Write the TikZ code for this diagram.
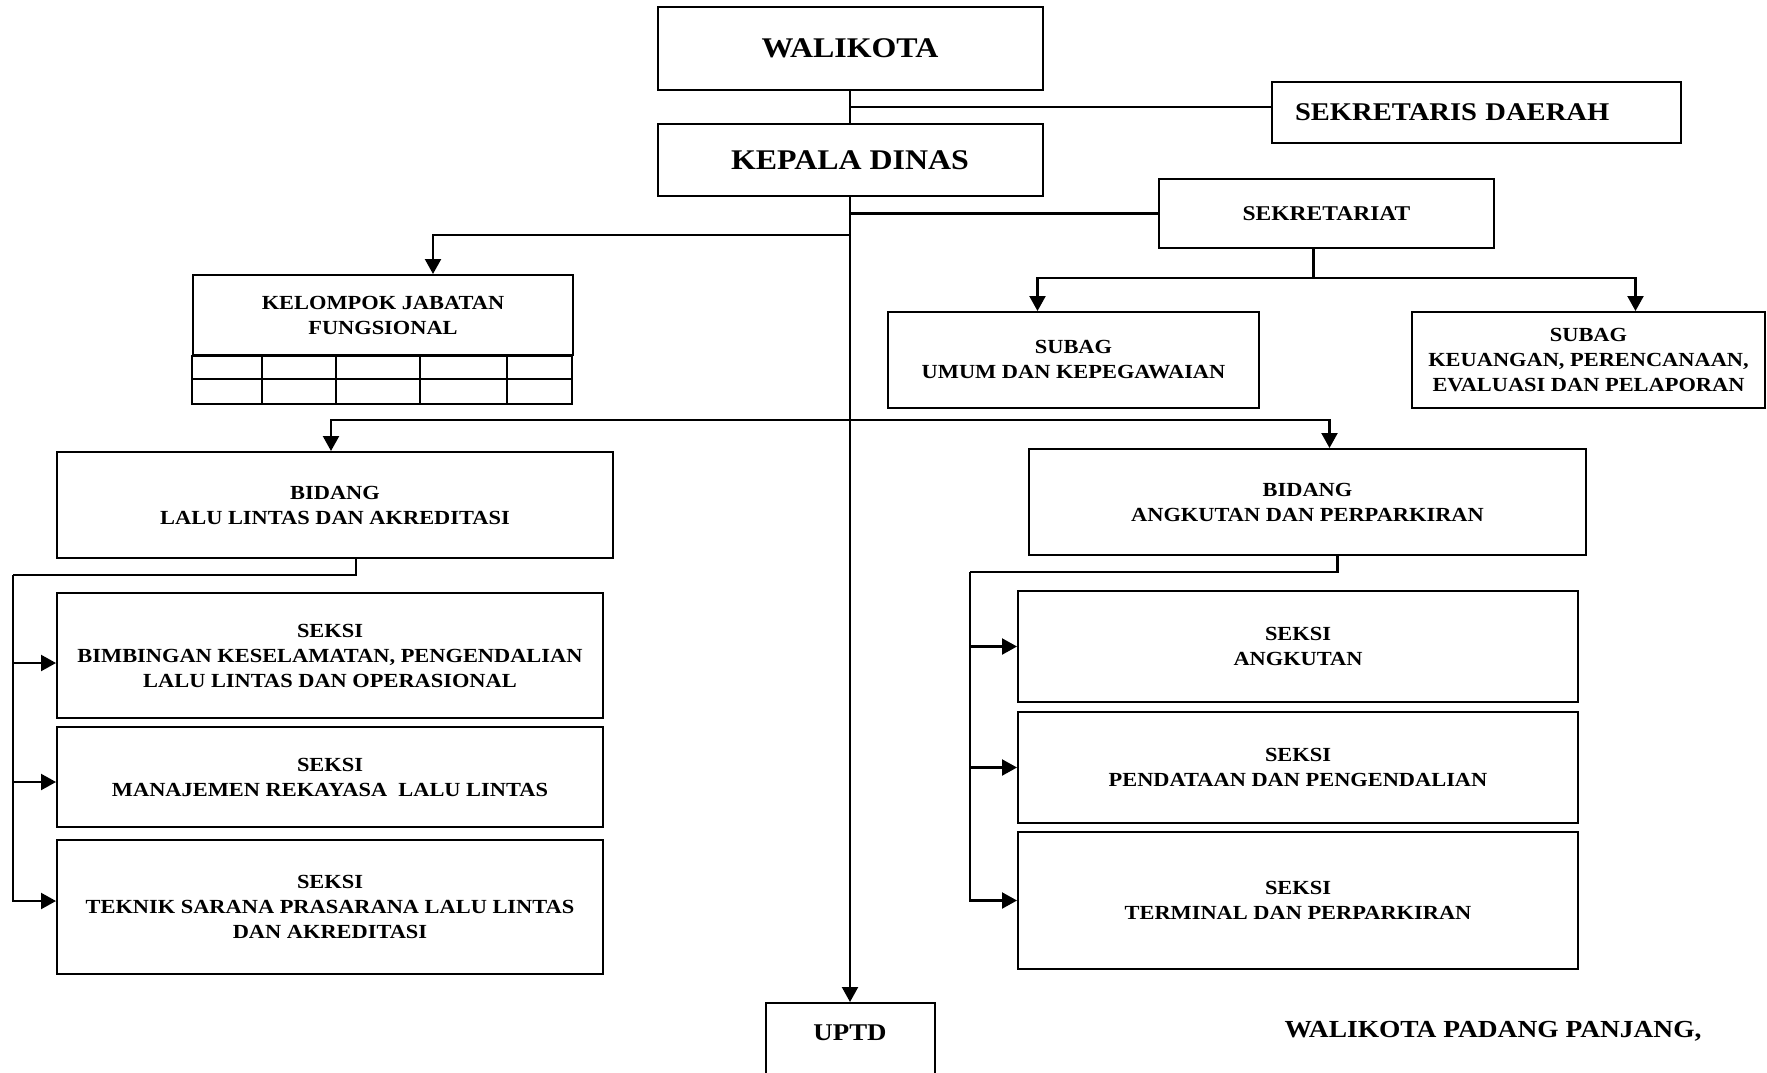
\documentclass[tikz,border=0pt]{standalone}
\usepackage{fontspec}
\setmainfont{Liberation Serif}[FakeStretch=1.12]
\usetikzlibrary{arrows.meta}

\begin{document}
\begin{tikzpicture}[x=1pt,y=-1pt,
  box/.style={draw,line width=2pt,align=center,inner sep=0pt,font=\bfseries\fontsize{20}{25}\selectfont},
  link/.style={line width=2.2pt},
  arr/.style={line width=2.2pt,-{Triangle[length=15pt,width=16pt]}}]
\useasboundingbox (0,0) rectangle (1767,1072);
\node [box,minimum width=385,minimum height=83,font=\bfseries\fontsize{28.5}{34}\selectfont] (walikota) at (850,48.5) {WALIKOTA};
\node [box,minimum width=385,minimum height=72,font=\bfseries\fontsize{28.5}{34}\selectfont] (kepala) at (850,160) {KEPALA DINAS};
\node [box,anchor=west,minimum height=61,text width=363,inner xsep=23,align=left,font=\bfseries\fontsize{25.5}{30}\selectfont] (sekda) at (1271,112.5) {SEKRETARIS DAERAH};
\node [box,minimum width=335,minimum height=69,font=\bfseries\fontsize{21}{26}\selectfont] (sekretariat) at (1326.5,213.5) {SEKRETARIAT};
\node [box,minimum width=380,minimum height=80] (kelompok) at (383,315) {KELOMPOK JABATAN\\FUNGSIONAL};
\node [box,minimum width=371,minimum height=96] (umum) at (1073.5,360) {SUBAG\\UMUM DAN KEPEGAWAIAN};
\node [box,minimum width=353,minimum height=96] (keu) at (1588.5,360) {SUBAG\\KEUANGAN, PERENCANAAN,\\EVALUASI DAN PELAPORAN};
\node [box,minimum width=556,minimum height=106] (bidll) at (335,505) {BIDANG\\LALU LINTAS DAN AKREDITASI};
\node [box,minimum width=557,minimum height=106] (bidap) at (1307.5,502) {BIDANG\\ANGKUTAN DAN PERPARKIRAN};
\node [box,minimum width=546,minimum height=125] (s1) at (330,655.5) {SEKSI\\BIMBINGAN KESELAMATAN, PENGENDALIAN\\LALU LINTAS DAN OPERASIONAL};
\node [box,minimum width=546,minimum height=100] (s2) at (330,777) {SEKSI\\MANAJEMEN REKAYASA\ \ LALU LINTAS};
\node [box,minimum width=546,minimum height=134] (s3) at (330,907) {SEKSI\\TEKNIK SARANA PRASARANA LALU LINTAS\\DAN AKREDITASI};
\node [box,minimum width=560,minimum height=111] (a1) at (1298,646.5) {SEKSI\\ANGKUTAN};
\node [box,minimum width=560,minimum height=111] (a2) at (1298,767.5) {SEKSI\\PENDATAAN DAN PENGENDALIAN};
\node [box,minimum width=560,minimum height=137] (a3) at (1298,900.5) {SEKSI\\TERMINAL DAN PERPARKIRAN};
\node [box,anchor=north,minimum width=169,text height=37,text depth=62,font=\bfseries\fontsize{24}{30}\selectfont] (uptd) at (850,1002) {UPTD};
\node [font=\bfseries\fontsize{24.5}{30}\selectfont] (ttd) at (1493,1031) {WALIKOTA PADANG PANJANG,};
\draw [link] (kelompok.south west) rectangle ++(380,48);
\draw [link] (kelompok.south west) ++(0,23) -- ++(380,0);
\foreach \dx in {70,144,228,315}
  \draw [link] ([xshift=\dx pt]kelompok.south west) -- ++(0,48);
\coordinate (jsekda) at ([yshift=5.5pt]sekda.west);
\coordinate (jkjf) at (850,235);
\coordinate (jbid) at (850,420);
\coordinate (lbus) at (13,575);
\coordinate (rbus) at (970,572);
\coordinate (t1) at ([yshift=-7.5pt]s1.west);
\coordinate (t2) at ([yshift=-5pt]s2.west);
\coordinate (t3) at ([yshift=6pt]s3.west);
\draw [link] (walikota) -- (kepala);
\draw [link] (walikota.south |- jsekda) -- (jsekda);
\draw [arr] (kepala) -- (uptd);
\draw [link] (kepala.south |- sekretariat.west) -- (sekretariat.west);
\draw [arr] (jkjf) -| ([xshift=50pt]kelompok.north);
\draw [link] ([xshift=-13pt]sekretariat.south) -- ++(0,29) coordinate (jsub);
\draw [arr] (jsub) -| ([xshift=-36pt]umum.north);
\draw [arr] (jsub) -| ([xshift=47pt]keu.north);
\draw [arr] (jbid) -| ([xshift=-4pt]bidll.north);
\draw [arr] (jbid) -| ([xshift=22pt]bidap.north);
\draw [link] ([xshift=21pt]bidll.south) |- (lbus);
\draw [arr] (lbus) |- (t3);
\draw [arr] (lbus |- t1) -- (t1);
\draw [arr] (lbus |- t2) -- (t2);
\draw [link] ([xshift=30pt]bidap.south) |- (rbus);
\draw [arr] (rbus) |- (a3.west);
\draw [arr] (rbus |- a1.west) -- (a1.west);
\draw [arr] (rbus |- a2.west) -- (a2.west);
\end{tikzpicture}
\end{document}
